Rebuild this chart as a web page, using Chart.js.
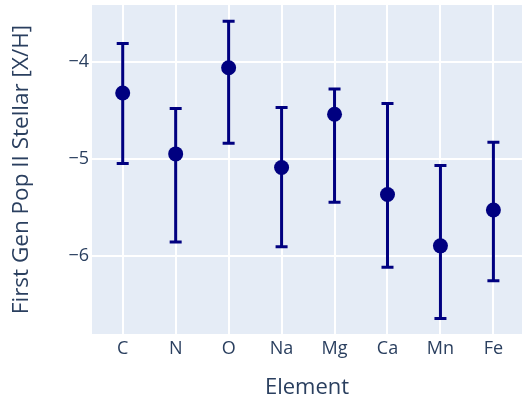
<!DOCTYPE html>
<html>
<head>
<meta charset="utf-8">
<script src="https://cdn.jsdelivr.net/npm/chart.js@4"></script>
<style>
  html, body { margin: 0; padding: 0; background: #ffffff; }
  #wrap { width: 522px; height: 396px; }
</style>
</head>
<body>
<div id="wrap"><canvas id="c" width="522" height="396"></canvas></div>
<script>
const categories = ["C", "N", "O", "Na", "Mg", "Ca", "Mn", "Fe"];
const means = [-4.32, -4.95, -4.06, -5.09, -4.54, -5.37, -5.90, -5.53];
const upper = [-3.81, -4.48, -3.58, -4.47, -4.28, -4.43, -5.07, -4.83];
const lower = [-5.05, -5.86, -4.84, -5.91, -5.45, -6.12, -6.65, -6.26];
const yTicks = [-4, -5, -6];

const NAVY = "#000080";
const TEXT = "#2a3f5f";
const FONT = "'Open Sans', 'Noto Sans', sans-serif";

const bgPlugin = {
  id: "plotBg",
  beforeDraw(chart) {
    const a = chart.chartArea, ctx = chart.ctx;
    ctx.save();
    ctx.fillStyle = "#E5ECF6";
    ctx.fillRect(a.left, a.top, a.right - a.left, a.bottom - a.top);
    ctx.restore();
  }
};

const errPlugin = {
  id: "errBars",
  beforeDatasetsDraw(chart) {
    const xs = chart.scales.x, ys = chart.scales.y, ctx = chart.ctx;
    ctx.save();
    ctx.strokeStyle = NAVY;
    ctx.lineWidth = 3;
    ctx.lineCap = "butt";
    categories.forEach((c, i) => {
      const x = xs.getPixelForValue(i);
      const yt = ys.getPixelForValue(upper[i]);
      const yb = ys.getPixelForValue(lower[i]);
      ctx.beginPath();
      ctx.moveTo(x, yt); ctx.lineTo(x, yb);
      ctx.moveTo(x - 6, yt); ctx.lineTo(x + 6, yt);
      ctx.moveTo(x - 6, yb); ctx.lineTo(x + 6, yb);
      ctx.stroke();
    });
    ctx.restore();
  }
};

new Chart(document.getElementById("c"), {
  type: "scatter",
  data: {
    datasets: [{
      data: means.map((v, i) => ({ x: i, y: v })),
      backgroundColor: NAVY,
      borderColor: NAVY,
      pointRadius: 7.5,
      pointHoverRadius: 7.5,
      borderWidth: 0
    }]
  },
  options: {
    responsive: false,
    animation: false,
    devicePixelRatio: 1,
    layout: { autoPadding: false, padding: { top: 5, right: 0, left: 0, bottom: 0 } },
    plugins: { legend: { display: false }, tooltip: { enabled: false } },
    scales: {
      x: {
        type: "linear",
        min: -0.58,
        max: 7.54,
        afterBuildTicks(s) { s.ticks = categories.map((c, i) => ({ value: i })); },
        afterFit(s) { s.height = 62; s.paddingLeft = 0; s.paddingRight = 0; },
        grid: { color: "#ffffff", lineWidth: 2, drawTicks: false },
        border: { display: false },
        ticks: {
          padding: 4,
          color: TEXT,
          font: { family: FONT, size: 18 },
          callback: (v) => categories[v] ?? ""
        },
        title: {
          display: true,
          text: "Element",
          color: TEXT,
          font: { family: FONT, size: 22 },
          padding: { top: 0, bottom: -5 }
        }
      },
      y: {
        min: -6.811,
        max: -3.411,
        afterBuildTicks(s) { s.ticks = yTicks.map(v => ({ value: v })); },
        afterFit(s) { s.width = 92; s.paddingTop = 0; s.paddingBottom = 0; },
        grid: { color: "#ffffff", lineWidth: 2, drawTicks: false },
        border: { display: false },
        ticks: {
          padding: 3,
          color: TEXT,
          font: { family: FONT, size: 18 },
          callback: (v) => "\u2212" + Math.abs(v)
        },
        title: {
          display: true,
          text: "First Gen Pop II Stellar [X/H]",
          color: TEXT,
          font: { family: FONT, size: 22.5 },
          padding: { top: 8, bottom: 0 }
        }
      }
    }
  },
  plugins: [bgPlugin, errPlugin]
});
</script>
</body>
</html>
